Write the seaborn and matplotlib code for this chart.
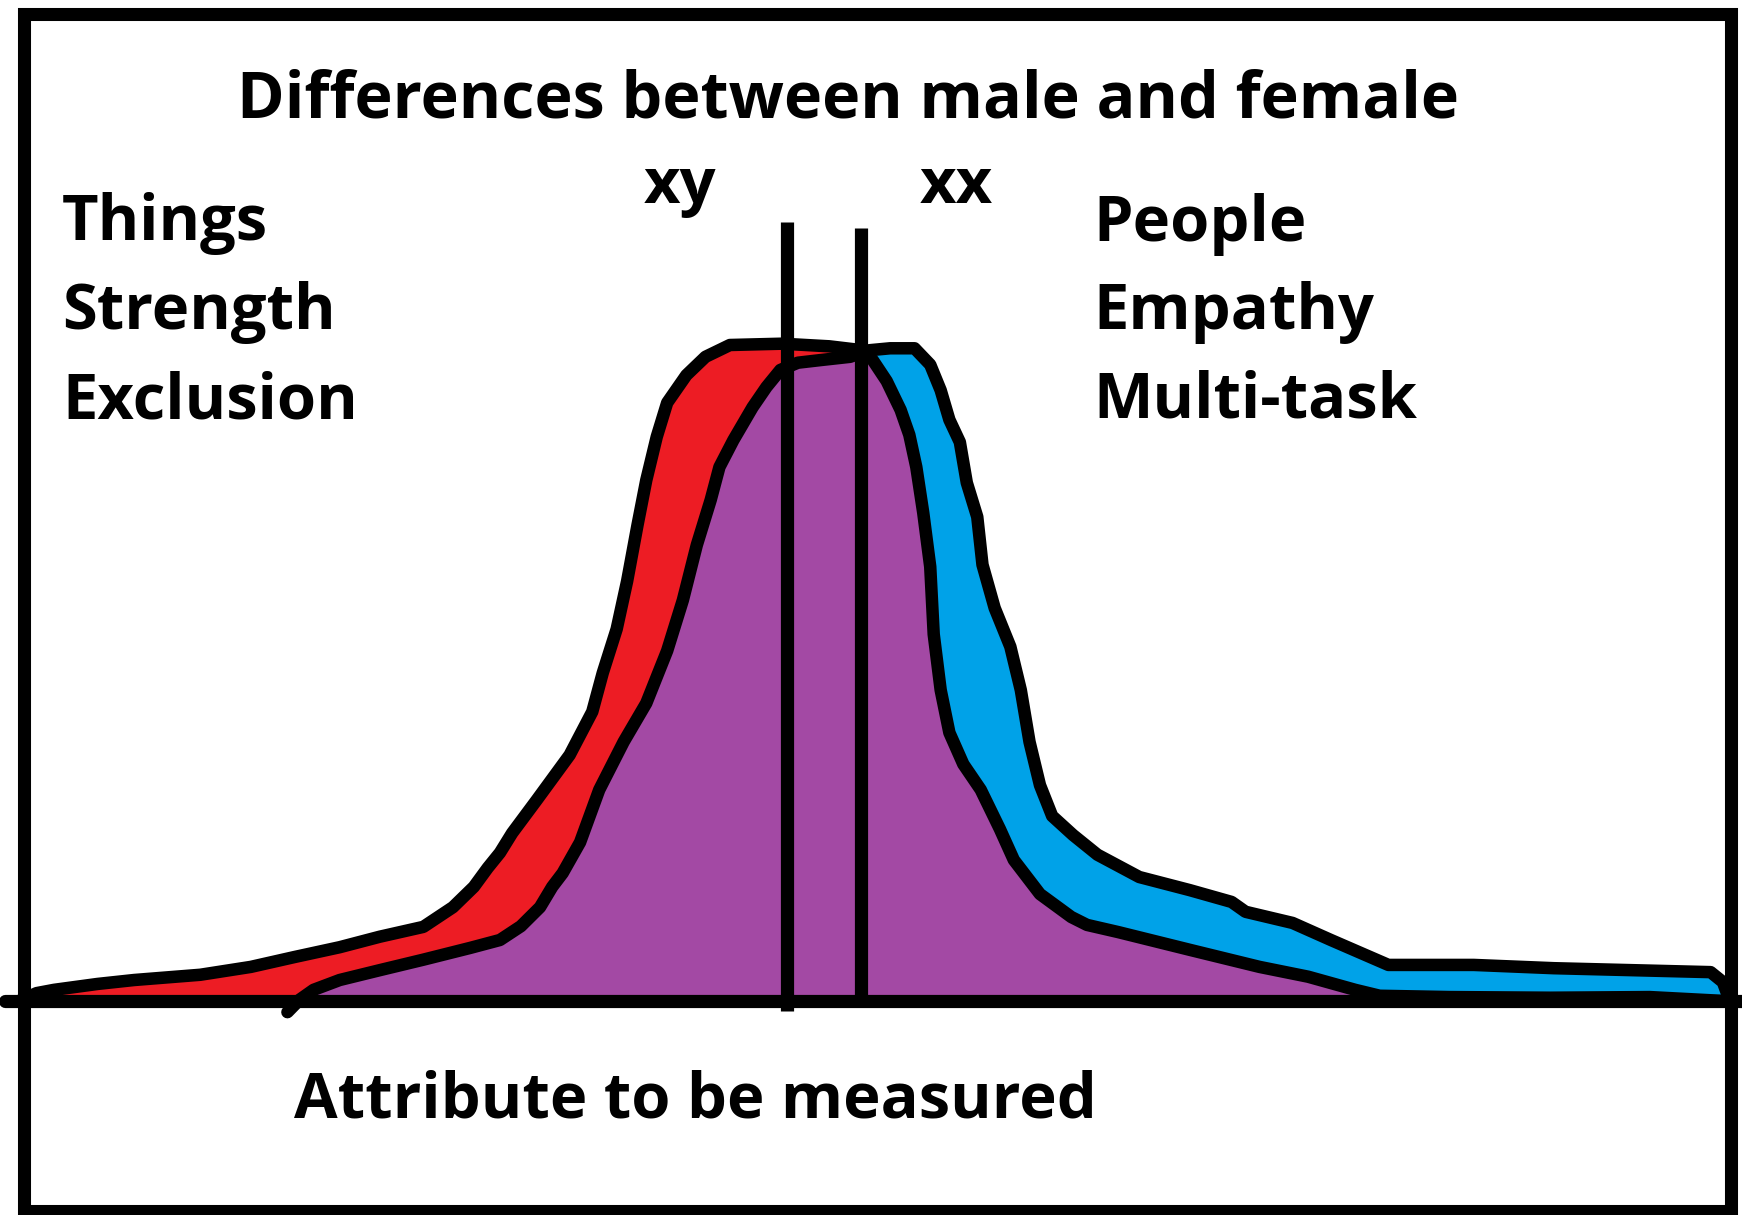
import numpy as np
import matplotlib
matplotlib.use("Agg")
import matplotlib.pyplot as plt
from matplotlib.patches import Rectangle
import seaborn as sns

# dados (x = atributo 0-100, y = frequência relativa 0-100)
male_x = [1.1, 2.1, 3.1, 5.6, 7.7, 11.5, 14.4, 16.9, 19.5, 21.8, 24.3, 26.0, 27.2, 28.0,
          28.7, 29.4, 30.8, 32.7, 34.0, 34.6, 35.4, 36.0, 36.6, 37.1, 37.7, 38.3, 39.4,
          40.5, 41.9, 44.9, 47.6, 49.5, 50.1, 50.9, 51.7, 52.2, 52.6, 53.0, 53.4, 53.6,
          54.0, 54.5, 55.3, 56.3, 57.4, 58.2, 59.7, 61.5, 62.4, 64.2, 68.3, 72.3, 75.1,
          77.8, 79.2, 83.2, 89.0, 94.7, 99.0]
male_y = [0.0, 1.2, 1.7, 2.6, 3.2, 4.0, 5.2, 6.7, 8.2, 9.8, 11.3, 14.3, 17.4, 20.3,
          22.6, 25.6, 30.6, 37.5, 44.1, 50.0, 56.7, 64.0, 72.6, 79.4, 86.0, 91.2, 95.4,
          98.2, 100.0, 100.2, 99.8, 99.2, 97.7, 94.5, 90.1, 86.3, 81.4, 74.4, 66.2, 55.9,
          47.4, 40.9, 36.1, 32.2, 26.2, 21.5, 16.3, 12.8, 11.6, 10.5, 7.8, 5.2, 3.7,
          1.7, 0.8, 0.6, 0.5, 0.6, 0.0]

female_x = [16.5, 17.2, 18.0, 19.5, 21.8, 24.3, 27.0, 28.7, 29.9, 31.0, 31.7, 32.3, 33.3,
            34.4, 35.8, 37.1, 38.3, 39.2, 40.0, 40.8, 41.3, 42.1, 43.2, 44.0, 44.8, 45.8,
            47.1, 48.8, 49.9, 51.1, 52.5, 53.4, 54.0, 54.5, 55.1, 55.5, 56.1, 56.4, 57.1,
            58.0, 58.6, 59.1, 59.7, 60.4, 61.6, 63.0, 65.4, 68.3, 70.7, 71.5, 74.2, 76.4,
            79.7, 84.6, 89.2, 98.2, 98.9, 99.3]
female_y = [-1.7, 0.2, 1.7, 3.2, 4.7, 6.3, 8.1, 9.3, 11.4, 14.3, 17.4, 19.5, 24.2,
            32.2, 39.5, 45.4, 53.4, 61.1, 69.5, 76.4, 81.4, 85.5, 90.5, 93.6, 96.2, 97.3,
            97.7, 98.2, 99.2, 99.5, 99.5, 97.0, 93.1, 88.6, 85.2, 79.0, 73.8, 66.5, 59.9,
            54.0, 47.4, 39.5, 32.9, 28.2, 25.3, 22.3, 18.9, 16.9, 15.1, 13.6, 11.9, 9.3,
            5.5, 5.5, 5.0, 4.4, 2.9, 0.0]

# médias (linhas verticais): xy e xx
group_labels = ["xy", "xx"]
group_means = [45.2, 49.4]

left_traits = ["Things", "Strength", "Exclusion"]
right_traits = ["People", "Empathy", "Multi-task"]
title_text = "Differences between male and female"
xlabel_text = "Attribute to be measured"

RED = "#ED1C24"
BLUE = "#00A2E8"
PURPLE = "#A349A4"

sns.set_theme(style="white")
plt.rcParams["font.family"] = ["Open Sans", "DejaVu Sans"]

W, H = 1742, 1215
fig = plt.figure(figsize=(W / 100, H / 100), dpi=100)
fig.patch.set_facecolor("white")

# eixo: y=0 na linha de base, y=100 no topo da curva
ax = fig.add_axes([0, (H - 1001) / H, 1, 656 / H])
ax.set_xlim(0, 100)
ax.set_ylim(0, 100)
ax.axis("off")

male_fill = ax.fill_between(male_x, male_y, 0, color=RED, lw=0, zorder=1)
ax.fill_between(female_x, female_y, 0, color=BLUE, lw=0, zorder=1)
overlap = ax.fill_between(female_x, female_y, 0, color=PURPLE, lw=0, zorder=2)
overlap.set_clip_path(male_fill.get_paths()[0], ax.transData)

lw = 9
sns.lineplot(x=male_x, y=male_y, sort=False, estimator=None, color="black",
             lw=lw, ax=ax, zorder=3, solid_joinstyle="round", solid_capstyle="round")
sns.lineplot(x=female_x, y=female_y, sort=False, estimator=None, color="black",
             lw=lw, ax=ax, zorder=3, solid_joinstyle="round", solid_capstyle="round")
for ln in ax.lines:
    ln.set_clip_on(False)

# linhas das médias
ax.vlines(group_means[0], -1.5, 118.8, color="black", lw=9.5, zorder=4, clip_on=False)
ax.vlines(group_means[1], -0.8, 117.8, color="black", lw=9.5, zorder=4, clip_on=False)

# linha de base
ax.axhline(0, xmin=0.003, xmax=1.0, color="black", lw=9.5, zorder=5,
           solid_capstyle="round", clip_on=False)

# moldura
fig.add_artist(Rectangle((23.5 / W, 1 - 1211 / H), (1730.5 - 23.5) / W, (1211 - 14) / H,
                         transform=fig.transFigure, fill=False, edgecolor="black",
                         lw=9.4, zorder=10))

fs = 45.5
kw = dict(fontweight="bold", color="black", va="baseline")


def ftext(px, py, s, ha="left", size=fs):
    fig.text(px / W, 1 - py / H, s, ha=ha, fontsize=size, **kw)


ftext(848, 118, title_text, ha="center", size=46.5)
ftext(644, 203, group_labels[0])
ftext(920, 203, group_labels[1])
for i, t in enumerate(left_traits):
    ftext(62, 240 + 89 * i, t)
for i, t in enumerate(right_traits):
    ftext(1093, 241 + 88 * i, t)
ftext(294, 1118, xlabel_text)

fig.savefig("out.png", dpi=100)
